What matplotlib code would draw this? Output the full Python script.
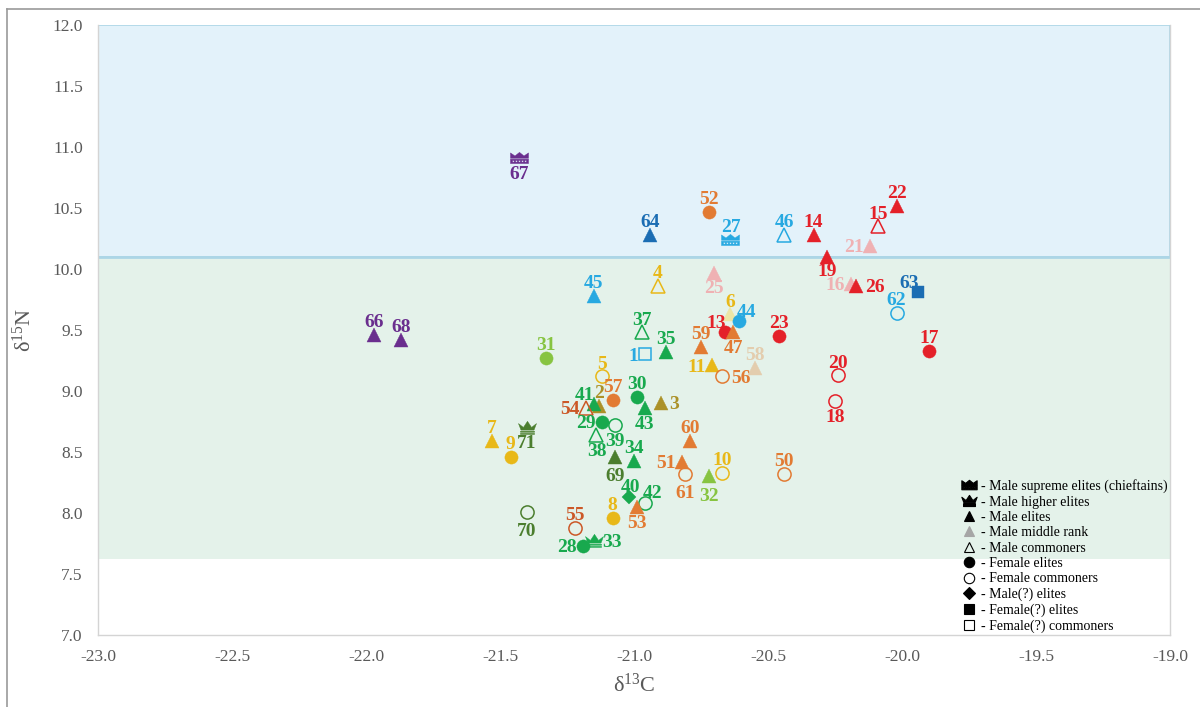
import matplotlib
matplotlib.use("Agg")
import matplotlib.pyplot as plt
from matplotlib.path import Path
from matplotlib.lines import Line2D
import numpy as np

plt.rcParams["font.family"] = ["Liberation Serif", "DejaVu Serif"]
plt.rcParams["mathtext.fontset"] = "custom"
plt.rcParams["mathtext.rm"] = "Liberation Serif"
plt.rcParams["mathtext.it"] = "Liberation Serif:italic"
plt.rcParams["axes.unicode_minus"] = False

# burial number, d13C, d15N, status, colour group
sample_ids = [67, 45, 66, 68, 31, 5, 37, 1, 35, 59, 11, 56, 13, 47, 6, 44, 4, 25,
              64, 52, 27, 46, 14, 19, 22, 15, 21, 16, 26, 63, 62, 17, 23, 58, 20,
              18, 57, 2, 41, 54, 30, 43, 3, 29, 39, 38, 7, 71, 9, 69, 34, 60, 51,
              61, 10, 32, 40, 42, 53, 8, 70, 55, 28, 33, 50]
d13c = [-21.43, -21.15, -21.97, -21.87, -21.33, -21.12, -20.97, -20.96, -20.88,
        -20.75, -20.71, -20.67, -20.66, -20.63, -20.64, -20.61, -20.91, -20.70,
        -20.94, -20.72, -20.64, -20.44, -20.33, -20.28, -20.02, -20.09, -20.12,
        -20.19, -20.17, -19.94, -20.02, -19.90, -20.46, -20.55, -20.24, -20.25,
        -21.08, -21.13, -21.15, -21.18, -20.99, -20.96, -20.90, -21.12, -21.07,
        -21.14, -21.53, -21.40, -21.46, -21.07, -21.00, -20.79, -20.82, -20.81,
        -20.67, -20.72, -21.02, -20.96, -20.99, -21.08, -21.40, -21.22, -21.19,
        -21.15, -20.44]
d15n = [10.91, 9.78, 9.46, 9.42, 9.27, 9.12, 9.48, 9.30, 9.32, 9.36, 9.21, 9.12,
        9.48, 9.48, 9.63, 9.57, 9.86, 9.97, 10.28, 10.47, 10.24, 10.28, 10.28,
        10.10, 10.52, 10.35, 10.19, 9.88, 9.86, 9.81, 9.64, 9.33, 9.45, 9.19,
        9.13, 8.92, 8.93, 8.88, 8.89, 8.86, 8.95, 8.86, 8.90, 8.75, 8.72, 8.64,
        8.59, 8.70, 8.46, 8.46, 8.43, 8.59, 8.42, 8.32, 8.33, 8.30, 8.13, 8.08,
        8.05, 7.96, 8.01, 7.88, 7.73, 7.77, 8.32]
status = ["sup", "elite", "elite", "elite", "f_elite", "f_comm", "comm", "fq_comm",
          "elite", "elite", "elite", "f_comm", "f_elite", "elite", "mid", "f_elite",
          "comm", "mid", "elite", "f_elite", "sup", "comm", "elite", "elite", "elite",
          "comm", "mid", "mid", "elite", "fq_elite", "f_comm", "f_elite", "f_elite",
          "mid", "f_comm", "f_comm", "f_elite", "elite", "elite", "comm", "f_elite",
          "elite", "elite", "f_elite", "f_comm", "comm", "elite", "high", "f_elite",
          "elite", "elite", "elite", "elite", "f_comm", "f_comm", "mid", "mq_elite",
          "f_comm", "elite", "f_elite", "f_comm", "f_comm", "f_elite", "high", "f_comm"]
group = ["purple", "cyan", "purple", "purple", "ltgreen", "yellow", "green", "cyan",
         "green", "orange", "yellow", "orange", "red", "orange", "paleyellow", "cyan",
         "yellow", "pink", "blue", "orange", "cyan", "cyan", "red", "red", "red",
         "red", "pink", "pink", "red", "blue", "cyan", "red", "red", "beige", "red",
         "red", "orange", "olive", "green", "brown", "green", "green", "olive",
         "green", "green", "green", "yellow", "dkgreen", "yellow", "dkgreen", "green",
         "orange", "orange", "orange", "yellow", "ltgreen", "green", "green", "orange",
         "yellow", "dkgreen", "brown", "green", "green", "orange"]

legend_labels = ["- Male supreme elites (chieftains)", "- Male higher elites",
                 "- Male elites", "- Male middle rank", "- Male commoners",
                 "- Female elites", "- Female commoners", "- Male(?) elites",
                 "- Female(?) elites", "- Female(?) commoners"]

colours = {
    "red": "#e42129", "pink": "#efb1b3", "orange": "#e27b33", "brown": "#cc5827",
    "yellow": "#e8b818", "paleyellow": "#ece6a6", "olive": "#ab9128",
    "green": "#18a94e", "dkgreen": "#4b7e2e", "ltgreen": "#87c441",
    "cyan": "#27a9e1", "blue": "#1b6db3", "purple": "#6a2e8e", "beige": "#e3cdae",
}
text_colours = dict(colours, paleyellow="#e8b818")


def poly_path(polys):
    verts, codes = [], []
    for p in polys:
        verts += list(p) + [p[0]]
        codes += [Path.MOVETO] + [Path.LINETO] * (len(p) - 1) + [Path.CLOSEPOLY]
    return Path(verts, codes)


# flat crown with a dotted band
dots = [[(x - 0.09, -0.40), (x + 0.09, -0.40), (x + 0.09, -0.22), (x - 0.09, -0.22)]
        for x in (-0.68, -0.34, 0.0, 0.34, 0.68)]
crown_sup = poly_path([[(-1, 0.02), (-1, 0.62), (-0.5, 0.28), (0, 0.68), (0.5, 0.28),
                        (1, 0.62), (1, 0.02)],
                       [(-1, -0.08), (1, -0.08), (1, -0.56), (-1, -0.56)]] + dots)
# spiky crown on two bars
crown_high = poly_path([[(-1, 0.55), (-0.45, 0.12), (0, 0.8), (0.45, 0.12), (1, 0.55),
                         (0.72, -0.18), (-0.72, -0.18)],
                        [(-0.78, -0.3), (0.78, -0.3), (0.78, -0.42), (-0.78, -0.42)],
                        [(-0.78, -0.54), (0.78, -0.54), (0.78, -0.66), (-0.78, -0.66)]])

# marker, size, filled
styles = {
    "sup": (crown_sup, 13, True),
    "high": (crown_high, 13, True),
    "elite": ("^", 10, True),
    "mid": ("^", 10, True),
    "comm": ("^", 10, False),
    "f_elite": ("o", 9.5, True),
    "f_comm": ("o", 9.5, False),
    "mq_elite": ("D", 7.5, True),
    "fq_elite": ("s", 9, True),
    "fq_comm": ("s", 9, False),
}

# where each number sits relative to its symbol
label_side = {67: "b", 1: "l", 11: "l", 56: "r", 13: "al", 47: "b", 44: "ar", 25: "b",
              19: "bs", 21: "l", 16: "l", 26: "r", 63: "al", 18: "b", 41: "al", 54: "l",
              43: "b", 3: "r", 29: "l", 39: "b", 38: "b", 71: "b", 69: "bb", 51: "l",
              61: "bb", 32: "bb", 40: "as", 42: "ar", 53: "b", 70: "bb", 28: "l", 33: "r"}
offsets = {"a": (0, 5.5, "center"), "as": (1.5, 3.5, "center"),
           "b": (0, -15.0, "center"), "bs": (0, -13.5, "center"),
           "bb": (0, -17.5, "center"),
           "l": (-4.5, -4.5, "right"), "r": (6.0, -4.5, "left"),
           "al": (-6.5, 3.0, "center"), "ar": (5.5, 3.5, "center")}

fig = plt.figure(figsize=(12, 7.07), dpi=100)
ax = fig.add_axes([98 / 1200, 72 / 707, 1072 / 1200, 610 / 707])
ax.set_xlim(-23, -19)
ax.set_ylim(7, 12)

ax.axhspan(10.1, 12.0, facecolor="#e3f2fa", edgecolor="#acd6e6", lw=1.2, zorder=0)
ax.axhspan(7.62, 10.1, facecolor="#e4f2ea", edgecolor="none", zorder=0)
ax.axhline(10.1, color="#acd6e6", lw=2, zorder=0.5)

for sid, x, y, st, g in zip(sample_ids, d13c, d15n, status, group):
    marker, ms, filled = styles[st]
    c = colours[g]
    ax.plot(x, y, marker=marker, ms=ms, ls="none",
            markerfacecolor=c if filled else "none", markeredgecolor=c,
            markeredgewidth=0.3 if filled else 1.1, zorder=3)
    dx, dy, ha = offsets[label_side.get(sid, "a")]
    ax.annotate(str(sid), (x, y), xytext=(dx, dy), textcoords="offset points",
                ha=ha, va="baseline", fontsize=14, fontweight="bold",
                color=text_colours[g], zorder=4)

ax.spines["top"].set_visible(False)
for side in ("left", "bottom", "right"):
    ax.spines[side].set_color("#d4d4d4")
    ax.spines[side].set_linewidth(1.0)

ax.set_xticks(np.arange(-23, -18.9, 0.5))
ax.set_yticks(np.arange(7, 12.1, 0.5))
ax.xaxis.set_major_formatter(plt.FormatStrFormatter("%.1f"))
ax.yaxis.set_major_formatter(plt.FormatStrFormatter("%.1f"))
ax.tick_params(length=0, labelsize=12.5, colors="#595959")
ax.tick_params(axis="x", pad=10)
ax.tick_params(axis="y", pad=11)
ax.set_xlabel("δ$^{13}$C", fontsize=16, color="#595959", labelpad=6)
ax.set_ylabel("δ$^{15}$N", fontsize=16, color="#595959", labelpad=12)

legend_markers = [(crown_sup, 11, True, "black"), (crown_high, 11, True, "black"),
                  ("^", 7.5, True, "black"), ("^", 7.5, True, "#a6a6a6"),
                  ("^", 7.5, False, "black"), ("o", 7.5, True, "black"),
                  ("o", 7.5, False, "black"), ("D", 6, True, "black"),
                  ("s", 7.5, True, "black"), ("s", 7.5, False, "black")]
handles = [Line2D([], [], ls="none", marker=m, ms=s, markeredgewidth=0.8,
                  markerfacecolor=c if f else "none", markeredgecolor=c)
           for m, s, f, c in legend_markers]
ax.legend(handles, legend_labels, loc="lower right", bbox_to_anchor=(1.0, 0.0),
          frameon=False, fontsize=10, handlelength=1.0, handletextpad=0.4,
          labelspacing=0.17, borderpad=0.05, borderaxespad=0.1)

# outer frame of the figure panel
fig.add_artist(Line2D([7 / 1200, 7 / 1200], [0, 1 - 9 / 707], color="#9a9a9a", lw=1.2))
fig.add_artist(Line2D([7 / 1200, 1], [1 - 9 / 707, 1 - 9 / 707], color="#9a9a9a", lw=1.2))

fig.savefig("out.png", dpi=100)
